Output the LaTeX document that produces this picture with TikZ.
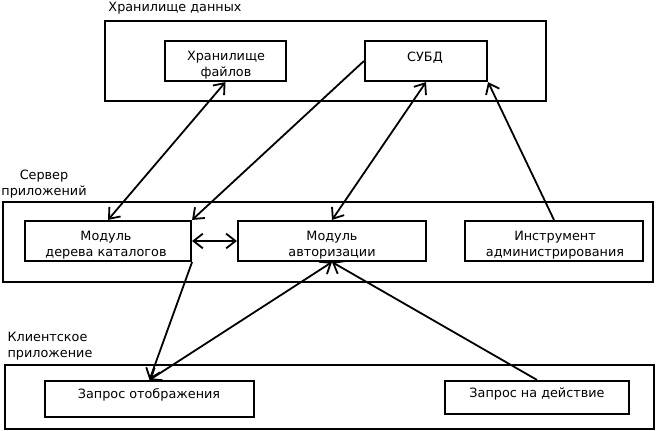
\documentclass[tikz,border=0pt]{standalone}
\usepackage{fontspec}
\setmainfont{DejaVu Sans}
\usetikzlibrary{fit,arrows.meta}
\begin{document}
\begin{tikzpicture}[x=0.75pt,y=-0.75pt,
  box/.style={draw,line width=1.6pt,inner sep=0pt,fit={#1}},
  txt/.style={font=\fontsize{9.6}{12}\selectfont,inner sep=0pt,align=center},
  tip/.style={Straight Barb[length=7pt,width=11pt]},
  conn/.style={line width=1.35pt,arrows={-Straight Barb[length=7pt,width=11pt]}},
  conn2/.style={line width=1.35pt,arrows={Straight Barb[length=7pt,width=11pt]-Straight Barb[length=7pt,width=11pt]}}]
\useasboundingbox (0,0) rectangle (656,431);
% outer groups
\node[box={(105,21) (546,101)}] (data) {};
\node[box={(3,202) (653,282)}] (server) {};
\node[box={(5,365) (654,429)}] (client) {};
% group titles
\node[txt] (datat) at (175,8) {Хранилище данных};
\node[txt] (servert) at (44,184) {Сервер\\приложений};
\node[txt,align=left] (clientt) at (50,346) {Клиентское\\приложение};
% inner boxes
\node[box={(165,41) (286,81)}] (hf) {};
\node[box={(365,41) (487,81)}] (subd) {};
\node[box={(25,221) (191,261)}] (tree) {};
\node[box={(238,221) (426,261)}] (auth) {};
\node[box={(465,221) (643,261)}] (instr) {};
\node[box={(45,381) (254,417)}] (zo) {};
\node[box={(445,381) (629,414)}] (zd) {};
% texts
\node[txt] (hft) at (226,65) {Хранилище\\файлов};
\node[txt] (subdt) at (425,58) {СУБД};
\node[txt] (treet) at (106,245) {Модуль\\дерева каталогов};
\node[txt] (autht) at (332,245) {Модуль\\авторизации};
\node[txt] (instrt) at (555,245) {Инструмент\\администрирования};
\node[txt] (zot) at (149,395) {Запрос отображения};
\node[txt] (zdt) at (537,394) {Запрос на действие};
% connectors
\draw[conn2] (hf.south) -- (tree.north);
\draw[conn] (subd.west) -- (tree.north east);
\draw[conn2] (subd.south) -- (auth.north);
\draw[conn] (instr.north) -- (subd.south east);
\draw[conn2] (tree.east) -- (auth.west);
\draw[conn] (tree.south east) -- (zo.north);
\draw[conn2] (auth.south) -- (zo.north);
\draw[conn] (zd.north) -- (auth.south);
\end{tikzpicture}
\end{document}
